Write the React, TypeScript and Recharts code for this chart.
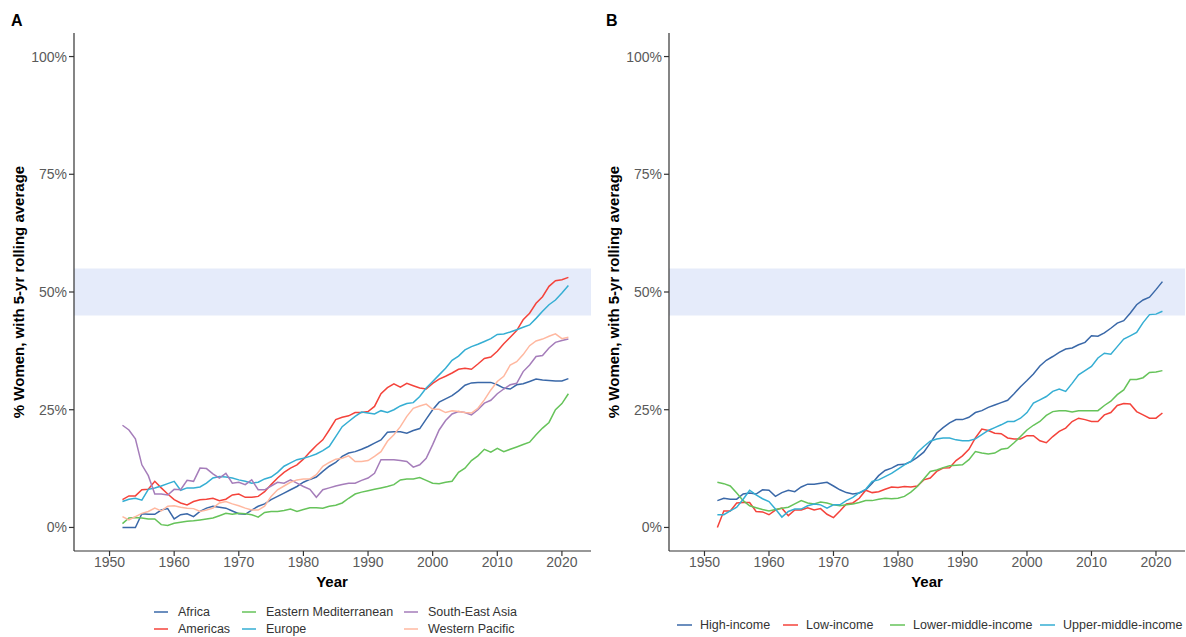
import React from 'react';
import { LineChart, Line, XAxis, YAxis, ReferenceArea } from 'recharts';

const years = [
  1952, 1953, 1954, 1955, 1956, 1957, 1958, 1959, 1960, 1961,
  1962, 1963, 1964, 1965, 1966, 1967, 1968, 1969, 1970, 1971,
  1972, 1973, 1974, 1975, 1976, 1977, 1978, 1979, 1980, 1981,
  1982, 1983, 1984, 1985, 1986, 1987, 1988, 1989, 1990, 1991,
  1992, 1993, 1994, 1995, 1996, 1997, 1998, 1999, 2000, 2001,
  2002, 2003, 2004, 2005, 2006, 2007, 2008, 2009, 2010, 2011,
  2012, 2013, 2014, 2015, 2016, 2017, 2018, 2019, 2020, 2021,
];

const xTicks = [1950, 1960, 1970, 1980, 1990, 2000, 2010, 2020];
const yTicks = [0, 25, 50, 75, 100];

// panel A: WHO regions
const africa = [
  0, 0, 0, 2.9, 2.8, 2.8, 3.7, 4.0, 1.8, 2.7,
  2.9, 2.3, 3.4, 4.1, 4.5, 4.3, 4.1, 3.5, 2.9, 2.8,
  3.7, 4.5, 5.0, 5.9, 6.6, 7.3, 8.0, 8.7, 9.6, 10.2,
  10.7, 11.9, 13.0, 13.8, 15.1, 15.8, 16.1, 16.6, 17.2, 17.9,
  18.6, 20.2, 20.3, 20.3, 20.0, 20.6, 21.0, 23.0, 25.0, 26.6,
  27.3, 28.0, 29.0, 30.2, 30.7, 30.8, 30.8, 30.8, 30.3, 29.6,
  29.4, 30.3, 30.5, 31.0, 31.5, 31.3, 31.2, 31.1, 31.1, 31.6,
];
const americas = [
  5.9, 6.7, 6.7, 8.0, 8.1, 9.8, 8.4, 7.1, 5.9, 5.2,
  4.8, 5.5, 5.9, 6.0, 6.2, 5.7, 6.0, 6.9, 7.1, 6.4,
  6.4, 6.6, 7.6, 9.1, 10.5, 11.7, 12.6, 13.3, 14.5, 16.0,
  17.4, 18.6, 20.7, 22.9, 23.4, 23.7, 24.4, 24.4, 24.6, 25.7,
  28.4, 29.7, 30.5, 29.8, 30.6, 30.1, 29.6, 29.4, 30.6, 31.5,
  32.1, 32.8, 33.6, 33.8, 33.6, 34.7, 35.9, 36.2, 37.4, 39.0,
  40.4, 41.8, 44.1, 45.5, 47.6, 49.0, 51.2, 52.4, 52.6, 53.1,
];
const easternMed = [
  0.8, 2.0, 2.1, 2.0, 1.8, 1.8, 0.6, 0.4, 0.9, 1.1,
  1.3, 1.4, 1.6, 1.8, 2.0, 2.5, 3.0, 2.8, 3.0, 2.9,
  2.7, 2.2, 3.2, 3.4, 3.4, 3.6, 3.9, 3.4, 3.8, 4.2,
  4.2, 4.1, 4.5, 4.7, 5.2, 6.2, 7.1, 7.5, 7.8, 8.1,
  8.4, 8.7, 9.1, 10.1, 10.3, 10.3, 10.6, 10.0, 9.4, 9.3,
  9.6, 9.8, 11.7, 12.6, 14.2, 15.2, 16.6, 16.0, 16.8, 16.1,
  16.6, 17.1, 17.6, 18.1, 19.7, 21.1, 22.3, 25.0, 26.3, 28.4,
];
const europe = [
  5.5, 6.0, 6.2, 5.8, 8.1, 8.4, 8.8, 9.3, 9.8, 7.9,
  8.4, 8.4, 8.6, 9.4, 10.5, 10.8, 10.7, 10.5, 10.1, 9.8,
  9.4, 9.6, 10.3, 10.7, 11.7, 13.0, 13.7, 14.4, 14.7, 15.1,
  15.6, 16.3, 17.2, 19.3, 21.4, 22.5, 23.6, 24.5, 24.3, 24.1,
  24.8, 24.4, 25.0, 25.8, 26.3, 26.5, 27.8, 29.6, 31.0, 32.4,
  33.8, 35.5, 36.4, 37.7, 38.4, 38.9, 39.5, 40.1, 41.0, 41.1,
  41.5, 42.0, 42.5, 43.0, 44.4, 45.9, 47.3, 48.3, 49.8, 51.4,
];
const seAsia = [
  21.7, 20.7, 18.8, 13.3, 11.0, 7.1, 7.1, 6.9, 8.1, 8.0,
  10.0, 9.8, 12.6, 12.5, 11.4, 10.5, 11.5, 9.4, 9.6, 9.1,
  10.1, 8.0, 8.0, 8.8, 9.6, 9.4, 10.1, 9.4, 8.7, 8.1,
  6.4, 8.0, 8.4, 8.8, 9.1, 9.4, 9.4, 10.0, 10.5, 11.5,
  14.4, 14.4, 14.4, 14.2, 14.0, 12.8, 13.3, 14.7, 17.6, 20.7,
  22.7, 24.1, 24.6, 24.4, 23.9, 25.0, 26.4, 27.0, 28.4, 29.4,
  30.3, 30.6, 33.1, 34.5, 36.3, 36.5, 38.1, 39.3, 39.7, 40.0,
];
const westernPacific = [
  2.3, 1.6, 2.3, 3.0, 3.4, 4.1, 3.5, 4.5, 4.6, 4.3,
  4.1, 4.0, 3.4, 3.7, 4.1, 5.2, 5.5, 5.0, 4.6, 4.1,
  3.7, 3.7, 4.5, 6.6, 8.0, 8.8, 9.6, 10.1, 10.3, 10.3,
  11.2, 13.0, 13.8, 14.5, 14.7, 15.2, 14.0, 14.0, 14.2, 15.1,
  16.1, 18.3, 19.7, 21.4, 23.6, 25.3, 25.8, 26.2, 25.1, 25.1,
  24.4, 24.8, 24.6, 24.4, 24.3, 25.3, 27.1, 29.2, 31.0, 32.1,
  34.5, 35.2, 36.7, 38.6, 39.6, 40.0, 40.6, 41.1, 40.1, 40.4,
];

// panel B: income groups
const highIncome = [
  5.7, 6.2, 6.0, 6.0, 7.1, 7.3, 7.1, 8.0, 7.9, 6.6,
  7.4, 7.9, 7.6, 8.6, 9.2, 9.2, 9.4, 9.6, 8.8, 8.0,
  7.4, 7.1, 7.3, 8.0, 9.4, 11.0, 12.1, 12.6, 13.3, 13.4,
  14.0, 14.9, 16.0, 17.9, 20.0, 21.2, 22.2, 22.9, 22.9, 23.4,
  24.4, 24.8, 25.5, 26.0, 26.5, 27.0, 28.4, 29.9, 31.2, 32.6,
  34.3, 35.5, 36.3, 37.2, 37.9, 38.1, 38.8, 39.3, 40.7, 40.6,
  41.3, 42.3, 43.4, 43.9, 45.5, 47.3, 48.3, 48.9, 50.5, 52.2,
];
const lowIncome = [
  0, 3.5, 3.5, 5.2, 5.3, 5.3, 3.4, 3.3, 2.7, 3.7,
  4.1, 2.5, 3.7, 3.7, 4.2, 3.7, 4.0, 2.8, 2.1, 3.5,
  5.0, 5.2, 6.2, 7.9, 7.4, 7.6, 8.1, 8.6, 8.5, 8.7,
  8.6, 8.8, 10.1, 10.5, 11.9, 12.6, 12.7, 14.2, 15.2, 16.6,
  19.0, 20.9, 20.6, 20.0, 19.9, 19.0, 18.8, 18.8, 19.5, 19.5,
  18.4, 18.0, 19.3, 20.4, 21.1, 22.5, 23.2, 22.9, 22.5, 22.5,
  23.9, 24.4, 25.9, 26.3, 26.2, 24.6, 23.9, 23.2, 23.2, 24.3,
];
const lowerMiddle = [
  9.6, 9.3, 8.8, 7.3, 5.7, 4.6, 4.2, 3.8, 3.5, 3.8,
  4.1, 4.3, 5.0, 5.7, 5.2, 5.0, 5.4, 5.2, 4.8, 4.6,
  4.8, 5.0, 5.3, 5.7, 5.7, 6.0, 6.2, 6.1, 6.2, 6.6,
  7.5, 8.7, 10.3, 11.9, 12.2, 12.7, 13.1, 13.2, 13.3, 14.4,
  16.1, 15.8, 15.6, 15.8, 16.6, 16.8, 18.0, 19.3, 20.7, 21.7,
  22.5, 23.8, 24.6, 24.8, 24.8, 24.5, 24.8, 24.8, 24.8, 24.8,
  25.9, 26.8, 28.2, 29.2, 31.4, 31.4, 31.8, 32.9, 33.0, 33.3,
];
const upperMiddle = [
  2.7, 2.7, 3.5, 4.3, 6.0, 7.9, 6.9, 6.1, 5.5, 3.9,
  2.2, 3.4, 3.9, 3.9, 4.6, 5.0, 4.8, 4.1, 4.8, 4.8,
  5.7, 6.4, 7.4, 8.1, 9.8, 10.1, 10.8, 11.5, 12.4, 13.3,
  14.0, 15.9, 17.2, 18.3, 18.8, 19.0, 19.0, 18.6, 18.4, 18.4,
  18.8, 19.7, 20.6, 21.2, 21.8, 22.5, 22.5, 23.2, 24.4, 26.4,
  27.1, 27.8, 28.9, 29.4, 28.9, 30.6, 32.4, 33.3, 34.2, 36.0,
  37.0, 36.8, 38.4, 40.0, 40.7, 41.4, 43.5, 45.2, 45.3, 45.9,
];

const BLUE = '#3A68A8';
const RED = '#F4433B';
const GREEN = '#66C35A';
const CYAN = '#35AED3';
const PURPLE = '#A57DBA';
const PEACH = '#FFB8A0';

type Series = { key: string; name: string; color: string; values: number[] };

const regionSeries: Series[] = [
  { key: 'africa', name: 'Africa', color: BLUE, values: africa },
  { key: 'americas', name: 'Americas', color: RED, values: americas },
  { key: 'emr', name: 'Eastern Mediterranean', color: GREEN, values: easternMed },
  { key: 'europe', name: 'Europe', color: CYAN, values: europe },
  { key: 'sea', name: 'South-East Asia', color: PURPLE, values: seAsia },
  { key: 'wpr', name: 'Western Pacific', color: PEACH, values: westernPacific },
];

const incomeSeries: Series[] = [
  { key: 'high', name: 'High-income', color: BLUE, values: highIncome },
  { key: 'low', name: 'Low-income', color: RED, values: lowIncome },
  { key: 'lmi', name: 'Lower-middle-income', color: GREEN, values: lowerMiddle },
  { key: 'umi', name: 'Upper-middle-income', color: CYAN, values: upperMiddle },
];

function toRows(series: Series[]) {
  return years.map((year, i) => {
    const row: Record<string, number> = { year };
    series.forEach(s => { row[s.key] = s.values[i]; });
    return row;
  });
}

const FONT = '"Liberation Sans", Arial, sans-serif';
const tickStyle = { fill: '#5a5a5a', fontSize: 14, fontFamily: FONT };

function Panel({ series, left, width, right }: { series: Series[]; left: number; width: number; right: number }) {
  return (
    <div style={{ position: 'absolute', left, top: 0 }}>
      <LineChart width={width} height={600} data={toRows(series)} margin={{ top: 33, right, bottom: 19, left: 0 }}>
        <XAxis
          dataKey="year"
          type="number"
          domain={[1944.5, 2024.5]}
          ticks={xTicks}
          allowDataOverflow
          height={30}
          tick={tickStyle}
          tickSize={5}
          tickMargin={1}
          stroke="#333"
          strokeWidth={1.2}
        />
        <YAxis
          type="number"
          domain={[-5, 105]}
          ticks={yTicks}
          allowDataOverflow
          width={74}
          tickFormatter={(v: number) => `${v}%`}
          tick={tickStyle}
          tickSize={5}
          tickMargin={2}
          stroke="#333"
          strokeWidth={1.2}
        />
        <ReferenceArea y1={45} y2={55} fill="#E5EBFA" fillOpacity={1} stroke="none" />
        {series.map(s => (
          <Line
            key={s.key}
            type="linear"
            dataKey={s.key}
            name={s.name}
            stroke={s.color}
            strokeWidth={1.5}
            dot={false}
            isAnimationActive={false}
          />
        ))}
      </LineChart>
    </div>
  );
}

// legend slots: [x, y] of each key line start
const legendA: [number, number][] = [[154, 612], [154, 629], [242, 612], [242, 629], [404, 612], [404, 629]];
const legendB: [number, number][] = [[677, 625], [783, 625], [890, 625], [1040, 625]];

function Labels() {
  const yTitle = '% Women, with 5-yr rolling average';
  return (
    <svg width={1186} height={637} style={{ position: 'absolute', left: 0, top: 0, pointerEvents: 'none' }}>
      <g fontFamily={FONT}>
        <text x={11} y={26} fontSize={16} fontWeight="bold" fill="#000">A</text>
        <text x={606} y={26} fontSize={16} fontWeight="bold" fill="#000">B</text>
        <text transform="translate(24,292) rotate(-90)" textAnchor="middle" fontSize={15} fontWeight="bold" fill="#000">{yTitle}</text>
        <text transform="translate(619,292) rotate(-90)" textAnchor="middle" fontSize={15} fontWeight="bold" fill="#000">{yTitle}</text>
        <text x={332} y={587} textAnchor="middle" fontSize={15} fontWeight="bold" fill="#000">Year</text>
        <text x={927} y={587} textAnchor="middle" fontSize={15} fontWeight="bold" fill="#000">Year</text>
        {regionSeries.map((s, i) => (
          <g key={s.key}>
            <line x1={legendA[i][0]} x2={legendA[i][0] + 14} y1={legendA[i][1]} y2={legendA[i][1]} stroke={s.color} strokeWidth={1.5} />
            <text x={legendA[i][0] + 24} y={legendA[i][1]} dy="0.35em" fontSize={12.5} fill="#333">{s.name}</text>
          </g>
        ))}
        {incomeSeries.map((s, i) => (
          <g key={s.key}>
            <line x1={legendB[i][0]} x2={legendB[i][0] + 15} y1={legendB[i][1]} y2={legendB[i][1]} stroke={s.color} strokeWidth={1.5} />
            <text x={legendB[i][0] + 23} y={legendB[i][1]} dy="0.35em" fontSize={12.5} fill="#333">{s.name}</text>
          </g>
        ))}
      </g>
    </svg>
  );
}

export default function App() {
  return (
    <div style={{ position: 'absolute', left: 0, top: 0, width: 1186, height: 637, overflow: 'hidden', background: '#fff' }}>
      <Panel series={regionSeries} left={0} width={600} right={9} />
      <Panel series={incomeSeries} left={595} width={591} right={1} />
      <Labels />
    </div>
  );
}
